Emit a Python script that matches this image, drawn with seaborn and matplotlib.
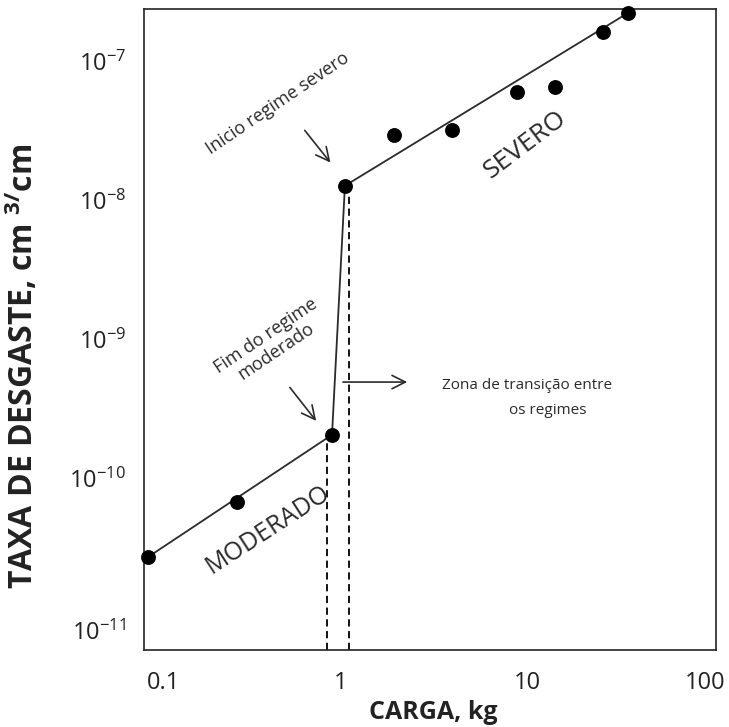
import matplotlib
matplotlib.use('Agg')
import matplotlib.pyplot as plt
import matplotlib.transforms as mtransforms
import seaborn as sns
from matplotlib.ticker import FixedLocator, NullFormatter

# ---- data ----
load_kg = [0.092, 0.276, 0.895, 1.05, 1.93, 3.95, 8.84, 14.2, 25.6, 34.9]
wear_rate = [2.75e-11, 6.8e-11, 2.07e-10, 1.27e-8, 2.94e-8, 3.2e-8,
             5.99e-8, 6.5e-8, 1.61e-7, 2.21e-7]

trend_x = [0.092, 0.895, 1.05, 34.9]
trend_y = [2.75e-11, 2.07e-10, 1.27e-8, 2.21e-7]

transition_x = [0.841, 1.104]
transition_top = [1.9e-10, 1.09e-8]

x_ticks = [0.1, 1, 10, 100]
x_tick_labels = ['0.1', '1', '10', '100']
x_marks = [1, 10]
y_ticks = [1e-11, 1e-10, 1e-9, 1e-8, 1e-7]
y_marks = [1e-10, 1e-9, 1e-8, 1e-7]

sns.set_theme(style='white')
plt.rcParams['font.family'] = ['Open Sans', 'DejaVu Sans']
plt.rcParams['mathtext.default'] = 'regular'

W, H = 729, 727
fig = plt.figure(figsize=(W / 100, H / 100), dpi=100)
ax = fig.add_axes([144 / W, 1 - 650 / H, 572 / W, 641 / H])
ax.set_xscale('log')
ax.set_yscale('log')
ax.set_xlim(0.0873, 103.8)
ax.set_ylim(5.9e-12, 2.36e-7)

sns.lineplot(x=trend_x, y=trend_y, sort=False, estimator=None,
             color='#2a2a2a', lw=1.3, ax=ax)
sns.scatterplot(x=load_kg, y=wear_rate, s=115, color='black',
                edgecolor='black', linewidth=0, zorder=4, ax=ax, clip_on=False)
ax.vlines(transition_x, 5.9e-12, transition_top, colors='black',
          linestyles=(0, (4, 2.5)), lw=1.3, zorder=2)

for s in ax.spines.values():
    s.set_color('#222222')
    s.set_linewidth(1.2)

ax.set_xticks(x_ticks)
ax.set_xticklabels(x_tick_labels)
ax.xaxis.set_minor_locator(FixedLocator(x_marks))
ax.xaxis.set_minor_formatter(NullFormatter())
ax.tick_params(axis='x', which='major', length=0, pad=15, labelsize=17,
               labelcolor='#222222')
ax.tick_params(axis='x', which='minor', direction='in', length=14.5,
               width=1.3, color='#111111', bottom=True, top=False)

ax.set_yticks(y_ticks)
ax.yaxis.set_minor_locator(FixedLocator(y_marks))
ax.yaxis.set_minor_formatter(NullFormatter())
ax.tick_params(axis='y', which='major', length=0, pad=13, labelsize=17,
               labelcolor='#222222', left=True, right=False)
ax.tick_params(axis='y', which='minor', direction='in', length=18.5,
               width=1.3, color='#55657a', left=False, right=True)

# small label nudges to match the reference layout
def nudge(lbl, dx, dy):
    lbl.set_transform(lbl.get_transform() +
                      mtransforms.ScaledTranslation(dx / 100, dy / 100,
                                                    fig.dpi_scale_trans))

xl = ax.get_xticklabels()
nudge(xl[0], 9, 0)
nudge(xl[-1], -8, 0)
yl = ax.get_yticklabels()
nudge(yl[0], 0, -12)

ax.set_xlabel('CARGA, kg', fontsize=18, fontweight='bold', color='#222222')
ax.xaxis.label.set_va('center')
ax.xaxis.set_label_coords(0.505, -0.097)
ax.set_ylabel(r'TAXA DE DESGASTE, cm $^{3/}$cm', fontsize=23,
              fontweight='bold', color='#222222')
ax.yaxis.label.set_va('center')
ax.yaxis.set_label_coords(-0.213, 0.443)

tc = '#2a2a2a'
ap = dict(arrowstyle='->', lw=1.2, color=tc, mutation_scale=24)
ax.annotate('', xy=(0.329, 0.757), xytext=(0.278, 0.814),
            xycoords='axes fraction', arrowprops=ap)
ax.annotate('', xy=(0.304, 0.354), xytext=(0.252, 0.413),
            xycoords='axes fraction', arrowprops=ap)
ax.annotate('', xy=(0.465, 0.418), xytext=(0.343, 0.418),
            xycoords='axes fraction', arrowprops=ap)

kw = dict(transform=ax.transAxes, ha='center', va='center',
          rotation_mode='anchor', color=tc)
ax.text(0.234, 0.853, 'Inicio regime severo', rotation=34, fontsize=13, **kw)
ax.text(0.222, 0.478, 'Fim do regime\nmoderado', rotation=34, fontsize=13,
        linespacing=1.1, **kw)
ax.text(0.670, 0.413, 'Zona de transição entre', fontsize=11, **kw)
ax.text(0.705, 0.374, 'os regimes', fontsize=11, **kw)
ax.text(0.666, 0.788, 'SEVERO', rotation=37, fontsize=19, **kw)
ax.text(0.217, 0.187, 'MODERADO', rotation=33, fontsize=18, **kw)

fig.savefig('out.png', dpi=100)
